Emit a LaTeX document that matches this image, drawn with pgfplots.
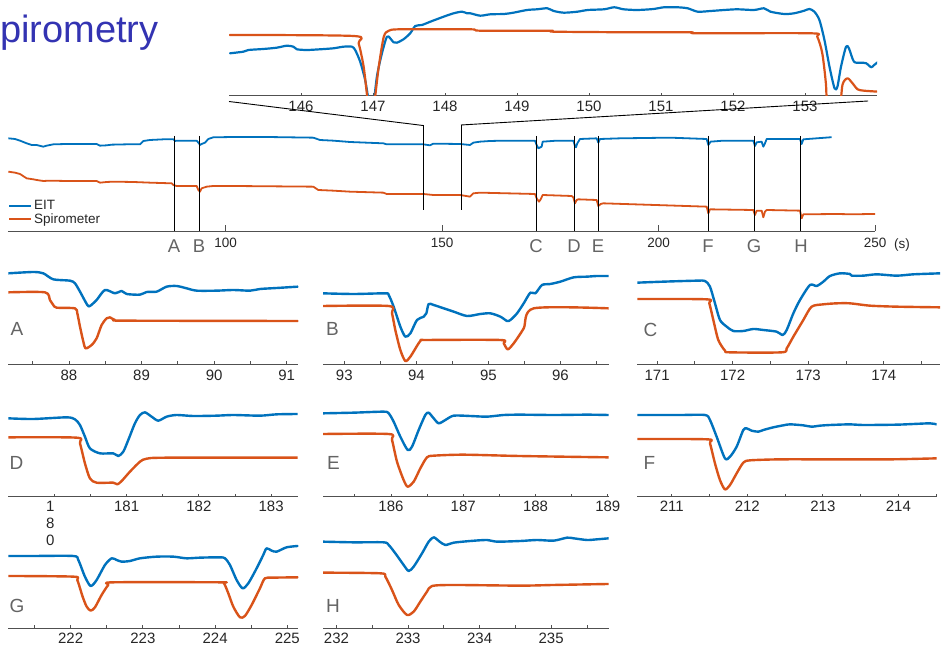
\documentclass[border=0pt]{standalone}
\usepackage{fontspec}
\setmainfont{Liberation Sans}
\usepackage{pgfplots}
\pgfplotsset{compat=1.18}
\definecolor{eitc}{RGB}{0,114,189}
\definecolor{spic}{RGB}{217,83,25}
\definecolor{titleblue}{RGB}{51,51,178}
\definecolor{axgray}{RGB}{80,80,80}
\definecolor{tickgray}{RGB}{38,38,38}
\definecolor{lettergray}{RGB}{100,100,100}
\pgfplotsset{
  base/.style={scale only axis, anchor=south west, axis x line=bottom, axis y line=none,
    axis line style={-}, x axis line style={-, draw=axgray, line width=0.9pt},
    tick align=inside, xtick style={draw=axgray, line width=0.8pt},
    /pgf/number format/assume math mode=true, ymax=0, clip mode=individual},
  panel/.style={base, xtick distance=1, minor x tick num=1,
    major tick length=3pt, minor tick length=3pt,
    xticklabel style={font=\fontsize{15}{15}\selectfont, text=tickgray, anchor=base, yshift=-15pt}},
  eit/.style={color=eitc, line width=2.4pt, smooth, tension=0.45, line join=round, line cap=round},
  spi/.style={color=spic, line width=2.4pt, smooth, tension=0.45, line join=round, line cap=round},
}
\tikzset{lett/.style={anchor=base west, inner sep=0pt, text=lettergray, font=\fontsize{19}{19}\selectfont}}
\begin{document}
\begin{tikzpicture}
\useasboundingbox (0pt,0pt) rectangle (941pt,647pt);
\node[anchor=base west, inner sep=0pt, text=titleblue, font=\fontsize{38}{38}\selectfont] at (0pt,604pt) {pirometry};

% ---------- inset ----------
\begin{axis}[base, at={(229pt,551.3pt)}, width=648pt, height=95.7pt, xmin=145, xmax=154, ymin=-95.7,
  xtick={146,147,148,149,150,151,152,153}, major tick length=2.5pt,
  xticklabel style={font=\fontsize{15}{15}\selectfont, text=tickgray, anchor=base, yshift=-16pt}]
\addplot[eit, line width=2.2pt] coordinates {(145.014,-53.3)(145.199,-51.7)(145.268,-50)(145.477,-49)(145.663,-47.7)(145.803,-45.7)(145.894,-46.7)(145.942,-49.3)(146.081,-50)(146.266,-49.3)(146.451,-48.3)(146.590,-46.7)(146.707,-46.7)(146.752,-50)(146.822,-61.7)(146.891,-80)(146.937,-100)(146.97,-115)(147.0,-110)(147.054,-76.7)(147.124,-53.3)(147.193,-36.7)(147.239,-38.3)(147.285,-42.3)(147.332,-42.7)(147.424,-39.3)(147.517,-33.3)(147.587,-26)(147.680,-25)(147.796,-21.7)(147.981,-16.7)(148.120,-13.3)(148.236,-11.7)(148.306,-13.3)(148.352,-13.3)(148.49,-15.7)(148.63,-14.3)(148.82,-14)(148.95,-12.7)(149.14,-10)(149.28,-9.3)(149.42,-8.3)(149.51,-11)(149.65,-12.7)(149.84,-11.7)(149.98,-10)(150.21,-9.3)(150.35,-7.3)(150.48,-9.3)(150.67,-10)(150.90,-9)(151.04,-7.3)(151.23,-7.3)(151.37,-8.3)(151.51,-11.7)(151.69,-11)(151.88,-10)(152.06,-9.3)(152.29,-10)(152.43,-8.3)(152.52,-11.7)(152.71,-14)(152.85,-13.3)(152.99,-10.7)(153.06,-9)(153.13,-11.7)(153.20,-20)(153.27,-40)(153.34,-66.7)(153.41,-88.3)(153.45,-86.7)(153.50,-66.7)(153.57,-46.7)(153.61,-48.3)(153.68,-61.7)(153.78,-62.7)(153.85,-63.3)(153.92,-67.3)(153.96,-65)(154.02,-61.7)};
\addplot[spi, line width=2.2pt] coordinates {(145.01,-35)(146.73,-36)(146.80,-43.3)(146.87,-66.7)(146.92,-96.7)(146.96,-115)(147.0,-115)(147.03,-96.7)(147.08,-66.7)(147.15,-36.7)(147.22,-30.7)(147.38,-29.3)(148.35,-29.3)(148.49,-30.7)(149.46,-30.7)(149.51,-31.7)(150.58,-32.3)(151.41,-32.3)(151.51,-33.3)(153.08,-33.3)(153.17,-36.7)(153.24,-53.3)(153.29,-83.3)(153.32,-115)(153.47,-115)(153.52,-85)(153.59,-78.3)(153.66,-83.3)(153.73,-89.3)(153.82,-90.7)(154.02,-91.7)};
\end{axis}

% ---------- overview ----------
\begin{axis}[base, at={(8pt,416pt)}, width=867pt, height=111pt, xmin=49.7, xmax=250, ymin=-333,
  xtick={100,150,200,250}, major tick length=6pt,
  xticklabel style={font=\fontsize{13.5}{13.5}\selectfont, text=tickgray, anchor=base, yshift=-17pt},
  legend style={at={(rel axis cs:0,0)}, anchor=south west, xshift=0pt, yshift=4pt, draw=none, fill=none,
    inner sep=0pt, font=\fontsize{13.5}{13.5}\selectfont, text=tickgray, row sep=-1.5pt},
  legend cell align=left,
  legend image code/.code={\draw[#1, line width=2pt] (0pt,0pt) -- (22pt,0pt);}]
\addplot[color=eitc, line width=1.8pt, sharp plot, line join=round] coordinates {(49.78,-55)(51.32,-57)(52.47,-62)(54.01,-70)(55.17,-75)(56.32,-75)(57.86,-80)(58.63,-77)(60.17,-73)(63.25,-72)(67.10,-72)(70.18,-72)(70.95,-77)(72.49,-76)(73.65,-74)(77.12,-73)(80.20,-73)(80.97,-63)(82.51,-60)(85.59,-58)(87.90,-58)(88.3,-63)(88.67,-62)(93.29,-62)(93.8,-70)(94.06,-75)(94.44,-72)(95.21,-68)(95.98,-57)(97.14,-52)(101.76,-51)(109.46,-51)(120.24,-53)(121.78,-60)(124.86,-62)(128.71,-66)(132.56,-68)(136.41,-70)(137.18,-73)(140.26,-73)(145.65,-73)(147.19,-76)(147.96,-71)(154.12,-72)(156.43,-75)(157.20,-68)(158.74,-65)(161.05,-63)(164.13,-62)(171.45,-62)(171.83,-75)(172.22,-85)(172.99,-80)(173.22,-65)(176.45,-62)(180.30,-62)(180.69,-78)(180.92,-82)(181.23,-70)(181.84,-57)(185.69,-55)(186.08,-68)(186.46,-57)(191.08,-55)(202.64,-53)(211.11,-57)(211.49,-75)(212.03,-65)(214.96,-62)(221.89,-62)(222.27,-78)(222.66,-67)(223.81,-65)(224.20,-80)(224.58,-70)(224.97,-57)(232.67,-57)(233.05,-72)(233.44,-58)(239.60,-52)(239.99,-52)};
\addlegendentry{EIT}
\addplot[color=spic, line width=1.8pt, sharp plot, line join=round] coordinates {(49.78,-155)(51.32,-158)(52.47,-162)(54.01,-175)(55.55,-178)(56.32,-180)(57.86,-183)(59.40,-182)(63.25,-183)(70.18,-183)(70.95,-188)(72.49,-186)(74.03,-185)(78.66,-186)(82.51,-188)(87.51,-190)(87.90,-195)(88.67,-198)(93.29,-198)(93.67,-210)(94.06,-215)(94.44,-205)(95.60,-200)(97.14,-198)(101.76,-198)(120.24,-200)(121.39,-210)(124.86,-212)(128.71,-215)(136.41,-218)(137.18,-222)(145.65,-222)(147.96,-225)(154.12,-225)(156.43,-230)(157.20,-220)(158.74,-218)(171.45,-222)(171.83,-235)(172.37,-245)(172.76,-238)(173.22,-225)(179.92,-228)(180.30,-232)(180.69,-250)(181.07,-240)(181.46,-238)(185.69,-240)(186.08,-258)(186.62,-252)(187.23,-250)(211.11,-260)(211.49,-280)(211.88,-268)(221.89,-270)(222.27,-285)(222.66,-272)(223.81,-272)(224.20,-292)(224.58,-275)(224.97,-270)(232.67,-272)(233.05,-295)(233.44,-283)(241.14,-282)(244.99,-283)(248.84,-282)(250.0,-282)};
\addlegendentry{Spirometer}
\foreach \xx/\ll in {88.05/A,93.83/B,171.68/C,180.46/D,186.01/E,211.42/F,222.05/G,232.90/H}{
  \edef\tmp{\noexpand\draw[black, line width=1pt] (axis cs:\xx,-48) -- (axis cs:\xx,-333);
    \noexpand\node[anchor=base, inner sep=0pt, text=lettergray, font=\noexpand\fontsize{18.5}{18.5}\noexpand\selectfont, yshift=-22pt] at (axis cs:\xx,-333) {\ll};}
  \tmp
}
\draw[black, line width=1pt] (axis cs:145.58,-15) -- (axis cs:145.58,-270);
\draw[black, line width=1pt] (axis cs:154.36,-15) -- (axis cs:154.36,-270);
\end{axis}
\node[anchor=base west, inner sep=0pt, text=tickgray, font=\fontsize{13.5}{13.5}\selectfont] at (894pt,398.7pt) {(s)};
\draw[black, line width=0.9pt] (229pt,545.5pt) -- (423pt,521.5pt);
\draw[black, line width=0.9pt] (868pt,546pt) -- (461pt,522pt);

% ---------- panel A ----------
\begin{axis}[panel, at={(8.3pt,283pt)}, width=290pt, height=104pt, xmin=87.164, xmax=91.160, ymin=-312,
  xticklabel style={yshift=-1.5pt}]
\addplot[eit] coordinates {(87.164,-40)(87.508,-36)(87.646,-40)(87.784,-58)(88.014,-62)(88.083,-70)(88.152,-95)(88.253,-135)(88.289,-138)(88.381,-120)(88.496,-90)(88.634,-100)(88.726,-93)(88.795,-102)(88.978,-104)(89.070,-96)(89.208,-95)(89.346,-80)(89.484,-78)(89.622,-85)(89.759,-92)(90.035,-92)(90.265,-90)(90.494,-92)(90.632,-87)(90.862,-84)(91.151,-80)};
\addplot[spi] coordinates {(87.164,-97)(87.669,-97)(87.738,-120)(87.784,-135)(87.830,-143)(88.083,-145)(88.115,-160)(88.152,-200)(88.198,-245)(88.230,-265)(88.312,-255)(88.381,-235)(88.450,-195)(88.519,-175)(88.565,-172)(88.634,-180)(88.795,-182)(91.151,-183)};
\node[lett, xshift=2pt, yshift=28pt] at (rel axis cs:0,0) {A};
\end{axis}

% ---------- panel B ----------
\begin{axis}[panel, at={(323pt,283pt)}, width=285.7pt, height=104pt, xmin=92.704, xmax=96.671, ymin=-312,
  xticklabel style={yshift=-1.5pt}]
\addplot[eit] coordinates {(92.704,-100)(93.130,-102)(93.569,-100)(93.616,-105)(93.685,-140)(93.778,-200)(93.847,-230)(93.917,-220)(94.009,-180)(94.102,-170)(94.139,-160)(94.171,-132)(94.241,-135)(94.380,-145)(94.519,-155)(94.704,-168)(94.889,-162)(95.028,-160)(95.167,-170)(95.259,-183)(95.306,-180)(95.398,-160)(95.491,-130)(95.583,-98)(95.653,-100)(95.745,-75)(95.861,-72)(96.000,-65)(96.185,-52)(96.370,-50)(96.509,-48)(96.671,-48)};
\addplot[spi] coordinates {(92.704,-138)(93.616,-138)(93.662,-160)(93.708,-210)(93.778,-270)(93.847,-303)(93.917,-290)(94.056,-243)(94.148,-240)(95.167,-240)(95.213,-250)(95.269,-268)(95.352,-250)(95.491,-205)(95.630,-145)(96.671,-145)};
\node[lett, xshift=3pt, yshift=28pt] at (rel axis cs:0,0) {B};
\end{axis}

% ---------- panel C ----------
\begin{axis}[panel, at={(637.3pt,283pt)}, width=302.7pt, height=104pt, xmin=170.738, xmax=174.744, ymin=-312,
  xticklabel style={yshift=-1.5pt}]
\addplot[eit] coordinates {(170.738,-68)(171.082,-65)(171.524,-62)(171.634,-63)(171.700,-80)(171.766,-130)(171.832,-180)(171.921,-200)(172.009,-213)(172.141,-213)(172.273,-207)(172.406,-210)(172.582,-215)(172.662,-225)(172.715,-210)(172.803,-160)(172.891,-120)(173.023,-75)(173.112,-78)(173.200,-65)(173.288,-48)(173.420,-40)(173.553,-42)(173.575,-47)(173.729,-47)(173.906,-43)(174.170,-47)(174.391,-43)(174.744,-40)};
\addplot[spi] coordinates {(170.738,-117)(171.656,-118)(171.691,-130)(171.744,-180)(171.810,-240)(171.899,-272)(171.965,-277)(172.648,-277)(172.715,-265)(172.803,-230)(172.935,-180)(173.045,-140)(173.200,-133)(173.376,-130)(173.553,-130)(173.817,-137)(174.170,-140)(174.744,-142)};
\node[lett, xshift=6pt, yshift=27.3pt] at (rel axis cs:0,0) {C};
\end{axis}

% ---------- panel D ----------
\begin{axis}[panel, at={(8.3pt,150.3pt)}, width=289.3pt, height=96.7pt, xmin=179.362, xmax=183.367, ymin=-290,
  xtick={180,181,182,183}, xticklabels={{\hspace*{-8pt}\vtop{\baselineskip=17pt\hbox{1}\hbox{8}\hbox{0}}},181,182,183}]
\addplot[eit] coordinates {(179.362,-55)(179.708,-57)(180.169,-52)(180.285,-58)(180.354,-75)(180.423,-110)(180.492,-145)(180.631,-160)(180.815,-160)(180.885,-168)(180.954,-155)(181.023,-120)(181.115,-70)(181.185,-45)(181.254,-37)(181.346,-50)(181.438,-62)(181.554,-50)(181.692,-45)(181.923,-48)(182.246,-47)(182.477,-45)(182.846,-47)(183.077,-43)(183.367,-42)};
\addplot[spi] coordinates {(179.362,-112)(180.308,-113)(180.354,-130)(180.423,-190)(180.492,-235)(180.585,-248)(180.815,-248)(180.871,-253)(180.931,-243)(181.046,-215)(181.185,-185)(181.277,-176)(181.554,-173)(183.367,-173)};
\node[lett, xshift=1pt, yshift=27.4pt] at (rel axis cs:0,0) {D};
\end{axis}

% ---------- panel E ----------
\begin{axis}[panel, at={(323pt,150.3pt)}, width=285.7pt, height=96.7pt, xmin=185.059, xmax=189.013, ymin=-290]
\addplot[eit] coordinates {(185.059,-40)(185.483,-38)(185.898,-35)(185.968,-40)(186.037,-65)(186.129,-110)(186.231,-150)(186.291,-140)(186.383,-90)(186.475,-45)(186.521,-38)(186.591,-55)(186.660,-70)(186.752,-60)(186.868,-47)(187.098,-48)(187.329,-50)(187.560,-45)(187.790,-44)(188.252,-45)(188.713,-44)(189.013,-45)};
\addplot[spi] coordinates {(185.059,-102)(185.968,-102)(186.014,-120)(186.083,-185)(186.175,-240)(186.231,-260)(186.314,-245)(186.406,-205)(186.498,-172)(186.591,-167)(187.006,-164)(187.790,-168)(189.013,-172)};
\node[lett, xshift=4pt, yshift=27.4pt] at (rel axis cs:0,0) {E};
\end{axis}

% ---------- panel F ----------
\begin{axis}[panel, at={(637.3pt,150.3pt)}, width=299.3pt, height=96.7pt, xmin=210.544, xmax=214.506, ymin=-290]
\addplot[eit] coordinates {(210.544,-45)(211.109,-45)(211.440,-45)(211.506,-60)(211.594,-110)(211.704,-175)(211.771,-170)(211.859,-140)(211.947,-90)(211.991,-85)(212.057,-92)(212.146,-95)(212.212,-90)(212.344,-82)(212.476,-76)(212.565,-73)(212.741,-76)(212.851,-80)(212.962,-77)(213.094,-75)(213.359,-73)(213.535,-75)(213.976,-74)(214.197,-72)(214.417,-70)(214.506,-73)};
\addplot[spi] coordinates {(210.544,-117)(211.471,-118)(211.506,-130)(211.572,-190)(211.638,-240)(211.704,-268)(211.771,-255)(211.859,-220)(211.947,-188)(212.035,-181)(212.432,-178)(213.094,-178)(213.888,-178)(214.506,-175)};
\node[lett, xshift=6pt, yshift=27.4pt] at (rel axis cs:0,0) {F};
\end{axis}

% ---------- panel G ----------
\begin{axis}[panel, at={(8.3pt,18.7pt)}, width=290pt, height=98.3pt, xmin=221.137, xmax=225.152, ymin=-295]
\addplot[eit] coordinates {(221.137,-78)(221.483,-78)(222.037,-78)(222.106,-90)(222.198,-140)(222.277,-168)(222.360,-150)(222.475,-105)(222.568,-85)(222.637,-90)(222.706,-95)(222.821,-93)(222.960,-85)(223.191,-80)(223.421,-80)(223.606,-85)(223.790,-83)(224.067,-82)(224.137,-85)(224.206,-105)(224.298,-150)(224.381,-175)(224.460,-160)(224.575,-115)(224.667,-75)(224.713,-55)(224.783,-62)(224.852,-65)(224.990,-52)(225.143,-48)};
\addplot[spi] coordinates {(221.137,-138)(222.037,-140)(222.092,-150)(222.166,-200)(222.222,-230)(222.277,-242)(222.337,-232)(222.429,-195)(222.521,-165)(222.591,-157)(224.067,-157)(224.123,-160)(224.183,-190)(224.252,-230)(224.344,-262)(224.413,-258)(224.506,-225)(224.621,-175)(224.690,-145)(224.806,-143)(225.143,-142)};
\node[lett, xshift=1pt, yshift=15.6pt] at (rel axis cs:0,0) {G};
\end{axis}

% ---------- panel H ----------
\begin{axis}[panel, at={(323pt,18.7pt)}, width=285.7pt, height=98.3pt, xmin=231.812, xmax=235.804, ymin=-295]
\addplot[eit] coordinates {(231.812,-35)(232.241,-37)(232.660,-37)(232.730,-45)(232.823,-70)(232.939,-105)(233.009,-123)(233.079,-110)(233.196,-70)(233.289,-35)(233.359,-22)(233.442,-35)(233.522,-45)(233.638,-38)(233.871,-33)(234.104,-30)(234.244,-35)(234.570,-33)(234.803,-30)(235.035,-32)(235.222,-23)(235.315,-25)(235.501,-30)(235.641,-28)(235.804,-25)};
\addplot[spi] coordinates {(231.812,-128)(232.613,-130)(232.683,-140)(232.776,-180)(232.870,-225)(232.986,-255)(233.079,-245)(233.172,-215)(233.265,-185)(233.335,-168)(233.638,-165)(234.570,-167)(235.035,-165)(235.804,-162)};
\node[lett, xshift=3pt, yshift=15.6pt] at (rel axis cs:0,0) {H};
\end{axis}
\end{tikzpicture}
\end{document}
